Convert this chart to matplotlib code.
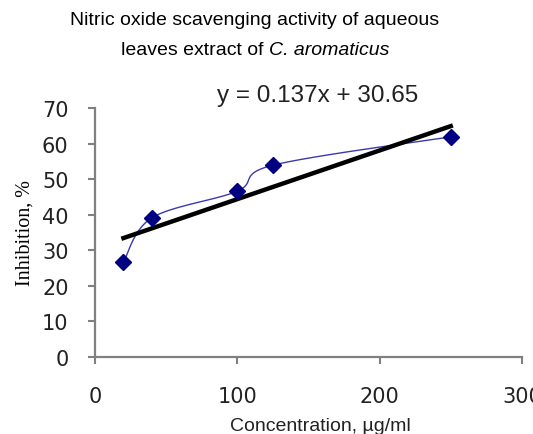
import numpy as np
import matplotlib
matplotlib.use("Agg")
import matplotlib.pyplot as plt

# data
conc = [20, 40, 100, 125, 250]
inhib = [26.6, 39.1, 46.6, 53.9, 61.9]
slope, intercept = 0.137, 30.65

fig = plt.figure(figsize=(5.33, 4.35), dpi=100)
ax = fig.add_axes([0.1782, 0.1777, 0.801, 0.5717])
ax.set_xlim(0, 300)
ax.set_ylim(0, 70)

# smoothed line like excel (catmull-rom through the points, in display space)
pts = ax.transData.transform(np.column_stack([conc, inhib]))
P = np.vstack([pts[0], pts, pts[-1]])
curve = []
t = np.linspace(0, 1, 30)
for i in range(1, len(P) - 2):
    p0, p1, p2, p3 = P[i - 1], P[i], P[i + 1], P[i + 2]
    c1 = p1 + (p2 - p0) / 6
    c2 = p2 - (p3 - p1) / 6
    seg = ((1 - t) ** 3)[:, None] * p1 + (3 * (1 - t) ** 2 * t)[:, None] * c1 \
        + (3 * (1 - t) * t ** 2)[:, None] * c2 + (t ** 3)[:, None] * p2
    curve.append(seg)
curve = ax.transData.inverted().transform(np.vstack(curve))
ax.plot(curve[:, 0], curve[:, 1], color="#3a3ab0", lw=1.0, zorder=2)

# trendline
xt = np.array([conc[0], conc[-1]])
ax.plot(xt, slope * xt + intercept, color="black", lw=3.2, zorder=3)

ax.plot(conc, inhib, "D", color="#000080", ms=8.5, zorder=4, mec="#000080")

for s in ["top", "right"]:
    ax.spines[s].set_visible(False)
for s in ["left", "bottom"]:
    ax.spines[s].set_color("#808080")
    ax.spines[s].set_linewidth(1.6)

ax.set_xticks([0, 100, 200, 300])
ax.set_yticks(range(0, 71, 10))
ax.tick_params(axis="both", direction="out", length=5, width=1.5,
               color="#808080", labelsize=15, labelcolor="#222222")
ax.tick_params(axis="x", pad=16)
ax.tick_params(axis="y", pad=14)
for lab in ax.get_xticklabels() + ax.get_yticklabels():
    lab.set_family("DejaVu Sans")

# title, second line has the italic species name
fig.text(0.478, 0.952, "Nitric oxide scavenging activity of aqueous",
         ha="center", va="center", fontsize=14, family="Liberation Sans")
t1 = fig.text(0, 0.885, "leaves extract of ", ha="left", va="center",
              fontsize=14, family="Liberation Sans")
t2 = fig.text(0, 0.885, "C. aromaticus", ha="left", va="center",
              fontsize=14, family="Liberation Sans", style="italic")
r = fig.canvas.get_renderer()
w1 = t1.get_window_extent(r).width
w2 = t2.get_window_extent(r).width
x0 = 0.478 * 533 - (w1 + w2) / 2
t1.set_x(x0 / 533)
t2.set_x((x0 + w1) / 533)

fig.text(0.595, 0.779, "y = 0.137x + 30.65", ha="center", va="center",
         fontsize=17.5, family="Liberation Sans", color="#222222")

fig.text(25 / 533, 1 - 233 / 435, "Inhibition, %", rotation=90, ha="center",
         va="center", family="Liberation Serif", fontsize=14.5)
fig.text(0.602, 0.02, "Concentration, µg/ml", ha="center", va="center",
         fontsize=14, family="Liberation Sans", color="#222222")

fig.savefig("out.png", dpi=100)
